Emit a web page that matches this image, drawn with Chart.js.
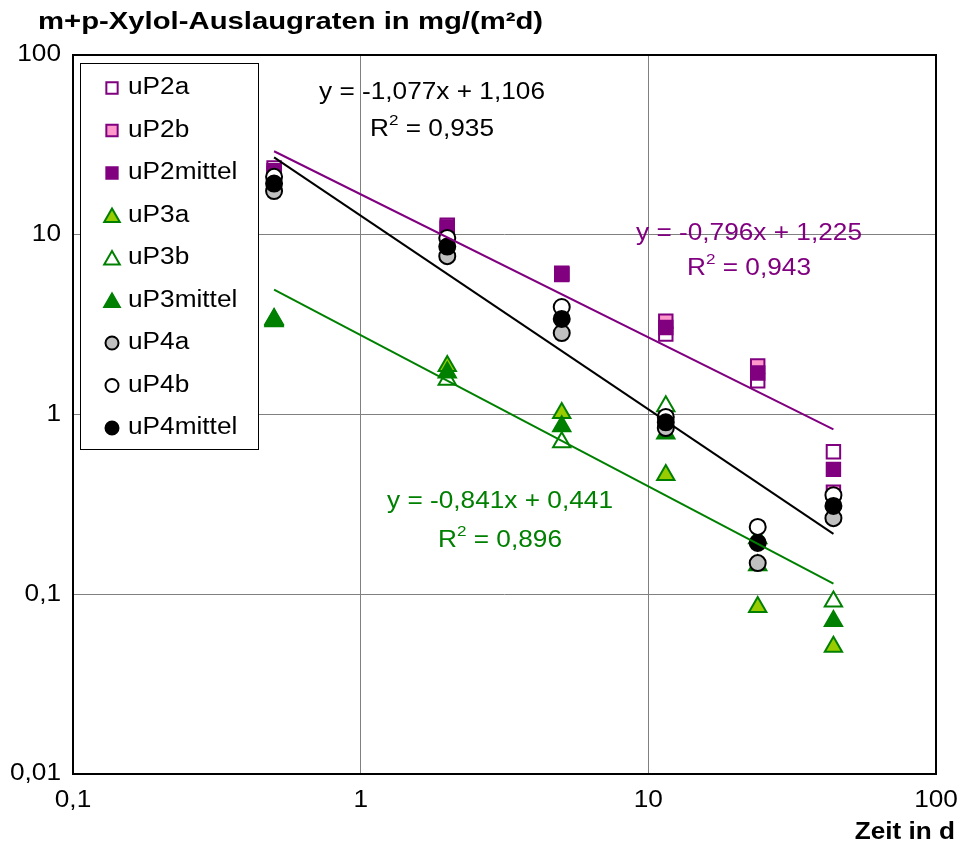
<!DOCTYPE html>
<html>
<head>
<meta charset="utf-8">
<script src="https://cdn.jsdelivr.net/npm/chart.js@4/dist/chart.umd.min.js"></script>
<style>
  html, body { margin: 0; padding: 0; background: #fff; }
  canvas { display: block; }
</style>
</head>
<body>
<canvas id="c" width="959" height="849"></canvas>
<script>
// Sampling times in days
const days = [0.5, 2, 5, 11.5, 24, 44];

// Leaching rates in mg/(m²d)
const uP2a      = [23.5, 10.8, 6.1, 2.8, 1.54, 0.62];
const uP2b      = [22.0, 11.3, 6.0, 3.3, 1.86, 0.37];
const uP2mittel = [22.7, 11.05, 6.05, 3.05, 1.70, 0.495];
const uP3a      = [3.4, 1.86, 1.02, 0.46, 0.085, 0.051];
const uP3b      = [3.3, 1.56, 0.70, 1.11, 0.205, 0.091];
const uP3mittel = [3.35, 1.71, 0.86, 0.785, 0.145, 0.071];
const uP4a      = [17.5, 7.6, 2.84, 0.84, 0.149, 0.265];
const uP4b      = [21.0, 9.6, 3.96, 0.97, 0.237, 0.356];
const uP4mittel = [19.25, 8.6, 3.40, 0.905, 0.193, 0.31];

// Power-law fits (log10 y = slope * log10 x + intercept): uP4, uP2, uP3
const fitNames      = ['uP4', 'uP2', 'uP3'];
const fitSlope      = [-1.077, -0.796, -0.841];
const fitIntercept  = [1.106, 1.225, 0.441];
const fitR2         = [0.935, 0.943, 0.896];

// Axis ticks
const xTickValues = [0.1, 1, 10, 100];
const xTickLabels = ['0,1', '1', '10', '100'];
const yTickValues = [0.01, 0.1, 1, 10, 100];
const yTickLabels = ['0,01', '0,1', '1', '10', '100'];

const PURPLE = '#800080', PINK = '#FF99CC', GREEN = '#008000', LIME = '#99CC00', GREY = '#C0C0C0';

const seriesDefs = [
  { label: 'uP2a',      data: uP2a,      style: 'rect',     fill: '#FFFFFF', stroke: PURPLE, r: 9.5, lr: 8 },
  { label: 'uP2b',      data: uP2b,      style: 'rect',     fill: PINK,      stroke: PURPLE, r: 9.5, lr: 8 },
  { label: 'uP2mittel', data: uP2mittel, style: 'rect',     fill: PURPLE,    stroke: PURPLE, r: 9.5, lr: 8 },
  { label: 'uP3a',      data: uP3a,      style: 'triangle', fill: LIME,      stroke: GREEN,  r: 10,  lr: 9 },
  { label: 'uP3b',      data: uP3b,      style: 'triangle', fill: '#FFFFFF', stroke: GREEN,  r: 10,  lr: 9 },
  { label: 'uP3mittel', data: uP3mittel, style: 'triangle', fill: GREEN,     stroke: GREEN,  r: 10,  lr: 9 },
  { label: 'uP4a',      data: uP4a,      style: 'circle',   fill: GREY,      stroke: '#000', r: 8,   lr: 6.5 },
  { label: 'uP4b',      data: uP4b,      style: 'circle',   fill: '#FFFFFF', stroke: '#000', r: 8,   lr: 6.5 },
  { label: 'uP4mittel', data: uP4mittel, style: 'circle',   fill: '#000000', stroke: '#000', r: 8,   lr: 6.5 }
];
const fitColors = ['#000000', PURPLE, GREEN];

const n = seriesDefs.length;
const datasets = seriesDefs.map((s, i) => ({
  label: s.label,
  data: days.map((d, k) => ({ x: d, y: s.data[k] })),
  pointStyle: s.style,
  pointRadius: s.r,
  pointBackgroundColor: s.fill,
  pointBorderColor: s.stroke,
  pointBorderWidth: 2,
  showLine: false,
  order: n - i + 1
}));

// Trend lines over the measured time span
fitSlope.forEach((m, i) => {
  const xs = [days[0], days[days.length - 1]];
  datasets.push({
    label: 'Trend ' + fitNames[i],
    data: xs.map(x => ({ x: x, y: Math.pow(10, m * Math.log10(x) + fitIntercept[i]) })),
    showLine: true,
    borderColor: fitColors[i],
    borderWidth: 2,
    pointRadius: 0,
    fill: false,
    order: 0
  });
});

// Text drawn with the slightly wide lettering of the figure
const SX = 1.14;
function wideText(ctx, str, x, y, align, font, sx, color) {
  ctx.save();
  ctx.font = font;
  ctx.fillStyle = color || '#000';
  ctx.textBaseline = 'middle';
  ctx.textAlign = 'left';
  const w = ctx.measureText(str).width * sx;
  const x0 = align === 'center' ? x - w / 2 : (align === 'right' ? x - w : x);
  ctx.translate(x0, y);
  ctx.scale(sx, 1);
  ctx.fillText(str, 0, 0);
  ctx.restore();
  return w;
}
function textWidth(ctx, str, font, sx) {
  ctx.save(); ctx.font = font; const w = ctx.measureText(str).width * sx; ctx.restore(); return w;
}
const FONT = '23px "Liberation Sans", Arial, sans-serif';
const FONT_SUP = '15px "Liberation Sans", Arial, sans-serif';
const FONT_BOLD = 'bold 24px "Liberation Sans", Arial, sans-serif';

function fmt(v, digits) { return v.toFixed(digits).replace('.', ','); }

function drawR2(ctx, r2, cx, y, color) {
  const a = 'R', b = '2', c = ' = ' + fmt(r2, 3);
  const wa = textWidth(ctx, a, FONT, SX), wb = textWidth(ctx, b, FONT_SUP, SX), wc = textWidth(ctx, c, FONT, SX);
  let x = cx - (wa + wb + wc) / 2;
  wideText(ctx, a, x, y, 'left', FONT, SX, color); x += wa;
  wideText(ctx, b, x, y - 9, 'left', FONT_SUP, SX, color); x += wb;
  wideText(ctx, c, x, y, 'left', FONT, SX, color);
}
function eqText(i) {
  const m = fitSlope[i], b = fitIntercept[i];
  return 'y = ' + fmt(m, 3) + 'x ' + (b < 0 ? '- ' : '+ ') + fmt(Math.abs(b), 3);
}

const figurePlugin = {
  id: 'figure',
  beforeDraw(chart) {
    const ctx = chart.ctx;
    ctx.save();
    ctx.fillStyle = '#fff';
    ctx.fillRect(0, 0, chart.width, chart.height);
    ctx.restore();
  },
  beforeDatasetsDraw(chart) {
    const ctx = chart.ctx, a = chart.chartArea;
    ctx.save();
    ctx.strokeStyle = '#000';
    ctx.lineWidth = 2;
    ctx.strokeRect(a.left, a.top, a.right - a.left, a.bottom - a.top);
    ctx.restore();
  },
  afterDatasetsDraw(chart) {
    const ctx = chart.ctx;
    // legend box
    const lx = 80, ly = 63, lw = 178, lh = 386;
    ctx.save();
    ctx.fillStyle = '#fff';
    ctx.fillRect(lx, ly, lw, lh);
    ctx.strokeStyle = '#000';
    ctx.lineWidth = 1;
    ctx.strokeRect(lx + 0.5, ly + 0.5, lw, lh);
    seriesDefs.forEach((s, i) => {
      const y = 88 + i * 42.5;
      ctx.fillStyle = s.fill;
      ctx.strokeStyle = s.stroke;
      ctx.lineWidth = 2;
      Chart.helpers.drawPoint(ctx, { pointStyle: s.style, radius: s.lr, rotation: 0, borderWidth: 2 }, 112, y + (s.style === 'triangle' ? 2 : 0));
      wideText(ctx, s.label, 128, y, 'left', FONT, SX, '#000');
    });
    ctx.restore();
  },
  afterDraw(chart) {
    const ctx = chart.ctx, xs = chart.scales.x, ys = chart.scales.y;
    // tick labels
    yTickValues.forEach((v, i) => wideText(ctx, yTickLabels[i], 61, ys.getPixelForValue(v), 'right', FONT, SX, '#000'));
    xTickValues.forEach((v, i) => wideText(ctx, xTickLabels[i], xs.getPixelForValue(v), 801, 'center', FONT, SX, '#000'));
    // titles
    wideText(ctx, 'm+p-Xylol-Auslaugraten in mg/(m²d)', 38, 22, 'left', FONT_BOLD, 1.22, '#000');
    wideText(ctx, 'Zeit in d', 955, 832, 'right', FONT_BOLD, 1.09, '#000');
    // fit equations
    const eqPos = [[432, 93, 130], [749, 234, 269], [500, 502, 541]];
    eqPos.forEach((p, i) => {
      wideText(ctx, eqText(i), p[0], p[1], 'center', FONT, SX, fitColors[i]);
      drawR2(ctx, fitR2[i], p[0], p[2], fitColors[i]);
    });
  }
};

const logAxis = (min, max, ticks, fitFn) => ({
  type: 'logarithmic',
  min: min, max: max,
  afterBuildTicks: s => { s.ticks = ticks.map(v => ({ value: v })); },
  afterFit: fitFn,
  ticks: { display: false },
  grid: { color: '#808080', lineWidth: 1, drawTicks: false },
  border: { display: false }
});

new Chart(document.getElementById('c'), {
  type: 'scatter',
  data: { datasets: datasets },
  options: {
    responsive: false,
    animation: false,
    layout: { padding: { left: 0, right: 23, top: 55, bottom: 0 } },
    plugins: { legend: { display: false }, tooltip: { enabled: false }, title: { display: false } },
    scales: {
      x: logAxis(0.1, 100, xTickValues, s => { s.height = 75; }),
      y: logAxis(0.01, 100, yTickValues, s => { s.width = 73; })
    }
  },
  plugins: [figurePlugin]
});
</script>
</body>
</html>
